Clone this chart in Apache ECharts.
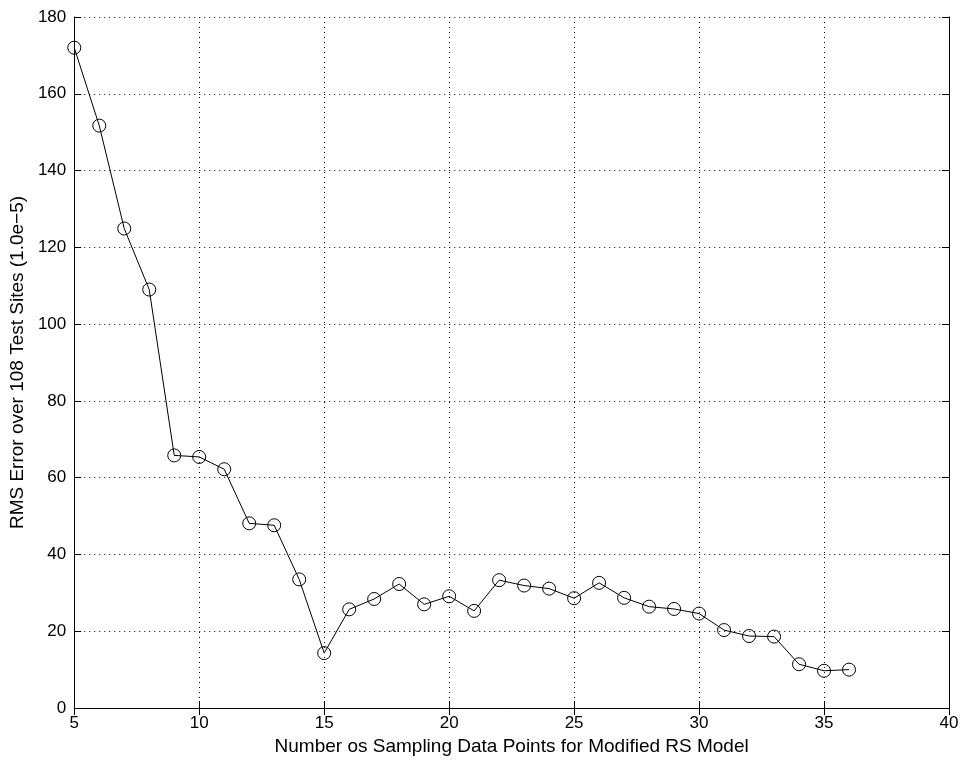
<!DOCTYPE html>
<html><head><meta charset="utf-8">
<script src="https://cdn.jsdelivr.net/npm/echarts@6/dist/echarts.min.js"></script>
<style>html,body{margin:0;padding:0;background:#fff}#c{width:963px;height:764px}</style>
</head><body><div id="c"></div>
<script>
const xValues = [5,6,7,8,9,10,11,12,13,14,15,16,17,18,19,20,21,22,23,24,25,26,27,28,29,30,31,32,33,34,35,36];
const rmsValues = [172.0,151.7,124.9,109.0,65.8,65.4,62.2,48.1,47.6,33.5,14.3,25.7,28.4,32.3,27.0,29.1,25.3,33.3,31.9,31.1,28.6,32.6,28.7,26.4,25.8,24.6,20.3,18.75,18.6,11.4,9.7,10.0];
const xTitle = 'Number os Sampling Data Points for Modified RS Model';
const yTitle = 'RMS Error over 108 Test Sites (1.0e\u22125)';

const font = 'Liberation Sans, Arial, Helvetica, sans-serif';
const chart = echarts.init(document.getElementById('c'));
const tickIn = {show:true, inside:true, length:7, lineStyle:{color:'#000', width:1}};
const axLine = {show:true, lineStyle:{color:'#000', width:1}};
const grid = {show:true, lineStyle:{color:'#000', type:[1,4], width:1}};
chart.setOption({
  animation:false,
  backgroundColor:'#fff',
  grid:{left:74, right:14, top:17, bottom:56, containLabel:false},
  xAxis:[
    {type:'value', min:5, max:40, interval:5, position:'bottom',
     axisLine:axLine, axisTick:tickIn, splitLine:grid,
     axisLabel:{color:'#000', fontFamily:font, fontSize:17, margin:7},
     name:xTitle, nameLocation:'middle', nameGap:27,
     nameTextStyle:{color:'#000', fontFamily:font, fontSize:19}},
    {type:'value', min:5, max:40, interval:5, position:'top',
     axisLine:axLine, axisTick:tickIn, splitLine:{show:false}, axisLabel:{show:false}}
  ],
  yAxis:[
    {type:'value', min:0, max:180, interval:20, position:'left',
     axisLine:axLine, axisTick:tickIn, splitLine:grid,
     axisLabel:{color:'#000', fontFamily:font, fontSize:17, margin:8},
     name:yTitle, nameLocation:'middle', nameGap:47,
     nameTextStyle:{color:'#000', fontFamily:font, fontSize:19}},
    {type:'value', min:0, max:180, interval:20, position:'right',
     axisLine:axLine, axisTick:tickIn, splitLine:{show:false}, axisLabel:{show:false}}
  ],
  series:[{
    type:'line',
    data:xValues.map((x,i)=>[x, rmsValues[i]]),
    symbol:'circle', symbolSize:13, showAllSymbol:true,
    lineStyle:{color:'#000', width:1},
    itemStyle:{color:'rgba(255,255,255,0)', borderColor:'#000', borderWidth:1},
    z:5
  }]
});
</script></body></html>
